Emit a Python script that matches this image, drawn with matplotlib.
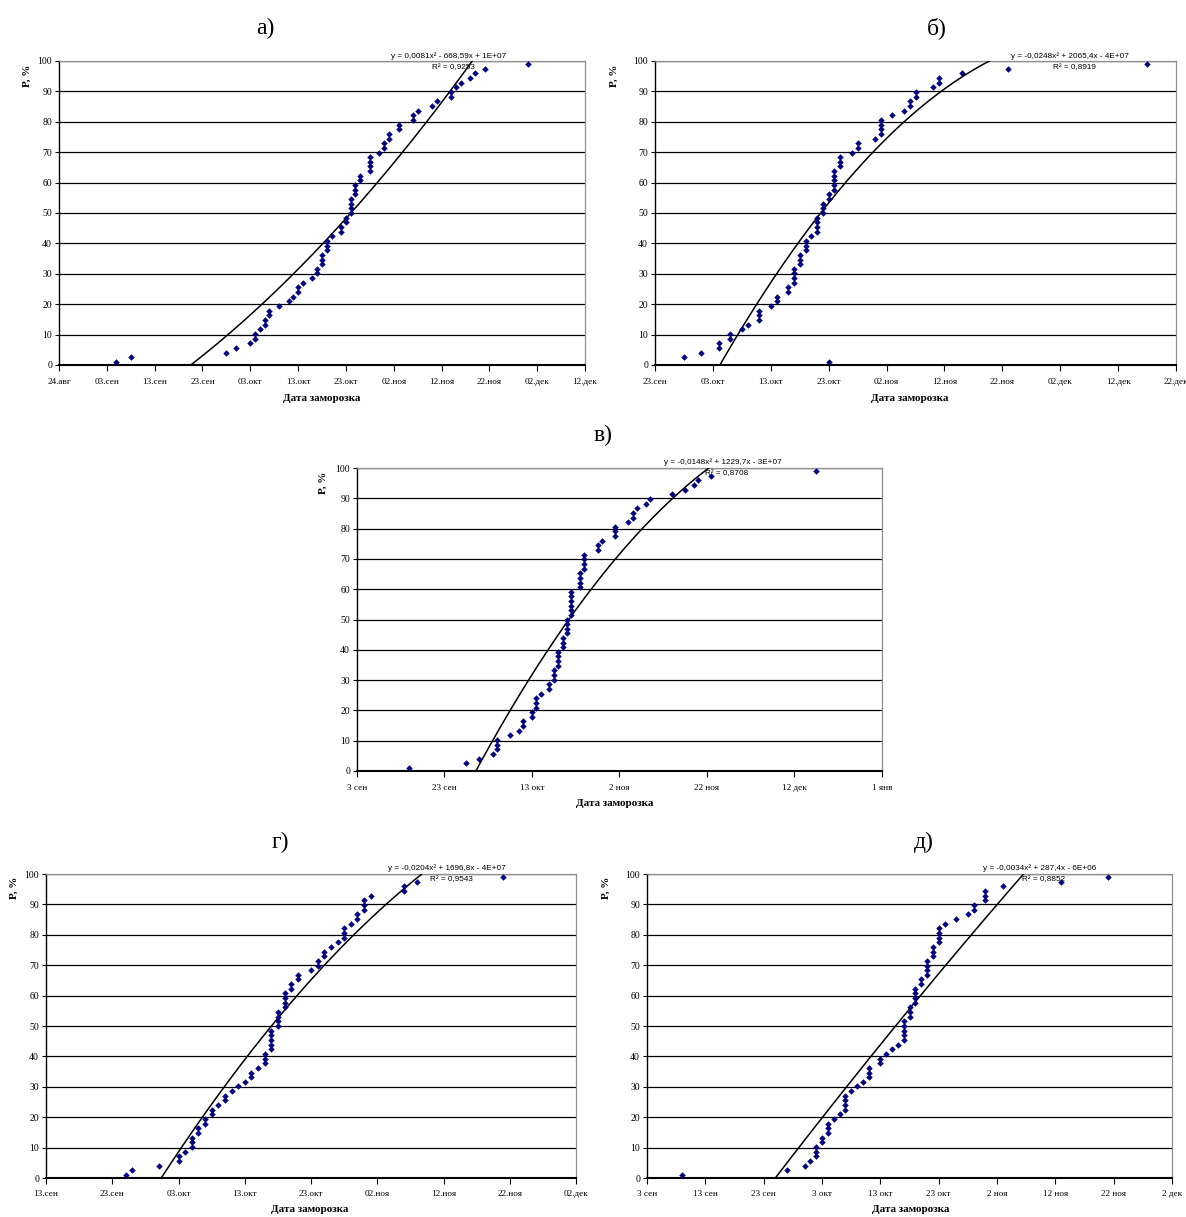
import numpy as np
import pandas as pd
import matplotlib
matplotlib.use('Agg')
import matplotlib.pyplot as plt
import matplotlib.dates as mdates
from matplotlib.ticker import FuncFormatter

# empirical probability of frost (shared by all five stations, n = 65)
P = [1.1, 2.6, 4.1, 5.7, 7.2, 8.7, 10.2, 11.8, 13.3, 14.8,
     16.4, 17.9, 19.4, 20.9, 22.5, 24.0, 25.5, 27.1, 28.6, 30.1,
     31.7, 33.2, 34.7, 36.2, 37.8, 39.3, 40.8, 42.4, 43.9, 45.4,
     47.0, 48.5, 50.0, 51.5, 53.1, 54.6, 56.1, 57.6, 59.2, 60.7,
     62.2, 63.8, 65.3, 66.8, 68.3, 69.9, 71.4, 72.9, 74.5, 76.0,
     77.5, 79.1, 80.6, 82.1, 83.6, 85.2, 86.7, 88.2, 89.8, 91.3,
     92.8, 94.3, 95.9, 97.4, 98.9]

# frost dates (MM-DD), in rank order
dates_a = ['09-05', '09-08', '09-28', '09-30', '10-03', '10-04', '10-04', '10-05', '10-06', '10-06',
           '10-07', '10-07', '10-09', '10-11', '10-12', '10-13', '10-13', '10-14', '10-16', '10-17',
           '10-17', '10-18', '10-18', '10-18', '10-19', '10-19', '10-19', '10-20', '10-22', '10-22',
           '10-23', '10-23', '10-24', '10-24', '10-24', '10-24', '10-25', '10-25', '10-25', '10-26',
           '10-26', '10-28', '10-28', '10-28', '10-28', '10-30', '10-31', '10-31', '11-01', '11-01',
           '11-03', '11-03', '11-06', '11-06', '11-07', '11-10', '11-11', '11-14', '11-14', '11-15',
           '11-16', '11-18', '11-19', '11-21', '11-30']
dates_b = ['10-23', '09-28', '10-01', '10-04', '10-04', '10-06', '10-06', '10-08', '10-09', '10-11',
           '10-11', '10-11', '10-13', '10-14', '10-14', '10-16', '10-16', '10-17', '10-17', '10-17',
           '10-17', '10-18', '10-18', '10-18', '10-19', '10-19', '10-19', '10-20', '10-21', '10-21',
           '10-21', '10-21', '10-22', '10-22', '10-22', '10-23', '10-23', '10-24', '10-24', '10-24',
           '10-24', '10-24', '10-25', '10-25', '10-25', '10-27', '10-28', '10-28', '10-31', '11-01',
           '11-01', '11-01', '11-01', '11-03', '11-05', '11-06', '11-06', '11-07', '11-07', '11-10',
           '11-11', '11-11', '11-15', '11-23', '12-17']
dates_v = ['09-15', '09-28', '10-01', '10-04', '10-05', '10-05', '10-05', '10-08', '10-10', '10-11',
           '10-11', '10-13', '10-13', '10-14', '10-14', '10-14', '10-15', '10-17', '10-17', '10-18',
           '10-18', '10-18', '10-19', '10-19', '10-19', '10-19', '10-20', '10-20', '10-20', '10-21',
           '10-21', '10-21', '10-21', '10-22', '10-22', '10-22', '10-22', '10-22', '10-22', '10-24',
           '10-24', '10-24', '10-24', '10-25', '10-25', '10-25', '10-25', '10-28', '10-28', '10-29',
           '11-01', '11-01', '11-01', '11-04', '11-05', '11-05', '11-06', '11-08', '11-09', '11-14',
           '11-17', '11-19', '11-20', '11-23', '12-17']
dates_g = ['09-25', '09-26', '09-30', '10-03', '10-03', '10-04', '10-05', '10-05', '10-05', '10-06',
           '10-06', '10-07', '10-07', '10-08', '10-08', '10-09', '10-10', '10-10', '10-11', '10-12',
           '10-13', '10-14', '10-14', '10-15', '10-16', '10-16', '10-16', '10-17', '10-17', '10-17',
           '10-17', '10-17', '10-18', '10-18', '10-18', '10-18', '10-19', '10-19', '10-19', '10-19',
           '10-20', '10-20', '10-21', '10-21', '10-23', '10-24', '10-24', '10-25', '10-25', '10-26',
           '10-27', '10-28', '10-28', '10-28', '10-29', '10-30', '10-30', '10-31', '10-31', '10-31',
           '11-01', '11-06', '11-06', '11-08', '11-21']
dates_d = ['09-09', '09-27', '09-30', '10-01', '10-02', '10-02', '10-02', '10-03', '10-03', '10-04',
           '10-04', '10-04', '10-05', '10-06', '10-07', '10-07', '10-07', '10-07', '10-08', '10-09',
           '10-10', '10-11', '10-11', '10-11', '10-13', '10-13', '10-14', '10-15', '10-16', '10-17',
           '10-17', '10-17', '10-17', '10-17', '10-18', '10-18', '10-18', '10-19', '10-19', '10-19',
           '10-19', '10-20', '10-20', '10-21', '10-21', '10-21', '10-21', '10-22', '10-22', '10-22',
           '10-23', '10-23', '10-23', '10-23', '10-24', '10-26', '10-28', '10-29', '10-29', '10-31',
           '10-31', '10-31', '11-03', '11-13', '11-21']

eq_a = ['y = 0,0081x² - 668,59x + 1E+07', 'R² = 0,9253']
eq_b = ['y = -0,0248x² + 2065,4x - 4E+07', 'R² = 0,8919']
eq_v = ['y = -0,0148x² + 1229,7x - 3E+07', 'R² = 0,8708']
eq_g = ['y = -0,0204x² + 1696,8x - 4E+07', 'R² = 0,9543']
eq_d = ['y = -0,0034x² + 287,4x - 6E+06', 'R² = 0,8852']

months = {1: 'янв', 8: 'авг', 9: 'сен', 10: 'окт', 11: 'ноя', 12: 'дек'}

W, H = 1186, 1217
fig = plt.figure(figsize=(W / 100, H / 100), dpi=100)
serif = 'Liberation Serif'
sans = 'Liberation Sans'


def fmt_dot(v, pos):
    d = mdates.num2date(v)
    return f'{d.day:02d}.{months[d.month]}'


def fmt_space(v, pos):
    d = mdates.num2date(v)
    return f'{d.day} {months[d.month]}'


def panel(box, dates, eq, title, xmin, xmax, step, fmt, title_xy, eq_xy, ylab_xy, xlab_xy):
    l, t, r, b = box
    ax = fig.add_axes([l / W, 1 - b / H, (r - l) / W, (b - t) / H])
    x = mdates.date2num(pd.to_datetime(['2001-' + s for s in dates]))
    x0 = mdates.date2num(pd.Timestamp(xmin))
    x1 = mdates.date2num(pd.Timestamp(xmax))
    # polynomial trendline (2nd order), like Excel
    xm = x.mean()
    c = np.polyfit(x - xm, P, 2)
    xs = np.linspace(x.min(), x.max(), 400)
    ax.plot(xs, np.polyval(c, xs - xm), color='black', lw=1.1, zorder=3)
    ax.plot(x, P, linestyle='none', marker='D', ms=3.3, mew=0, color='#000080', zorder=4)
    ax.set_xlim(x0, x1)
    ax.set_ylim(0, 100)
    ax.set_xticks(np.arange(x0, x1 + 0.5, step))
    ax.set_yticks(np.arange(0, 101, 10))
    ax.xaxis.set_major_formatter(FuncFormatter(fmt))
    ax.grid(axis='y', color='black', lw=0.9)
    ax.set_axisbelow(True)
    for s in ['top', 'right']:
        ax.spines[s].set_color('#909090')
        ax.spines[s].set_linewidth(0.9)
    ax.spines['left'].set_linewidth(1.0)
    ax.spines['bottom'].set_linewidth(1.5)
    ax.tick_params(axis='x', direction='out', length=4, width=0.8, pad=5, labelsize=6.6)
    ax.tick_params(axis='y', direction='out', length=3, width=0.8, pad=2, labelsize=7)
    for lab in ax.get_xticklabels() + ax.get_yticklabels():
        lab.set_fontfamily(serif)
    fig.text(title_xy[0] / W, 1 - title_xy[1] / H, title, fontsize=17,
             family=serif, ha='center', va='center')
    fig.text(eq_xy[0] / W, 1 - eq_xy[1] / H, eq[0], fontsize=5.9,
             family=sans, ha='center', va='center')
    fig.text((eq_xy[0] + 4) / W, 1 - (eq_xy[1] + 12) / H, eq[1], fontsize=5.9,
             family=sans, ha='center', va='center')
    fig.text(ylab_xy[0] / W, 1 - ylab_xy[1] / H, 'P, %', fontsize=8, family=serif,
             fontweight='bold', rotation=90, ha='center', va='center')
    fig.text(xlab_xy[0] / W, 1 - xlab_xy[1] / H, 'Дата заморозка', fontsize=8,
             family=serif, fontweight='bold', ha='center', va='center')
    return ax


panel((59, 61, 585, 365), dates_a, eq_a, 'а)', '2001-08-24', '2001-12-12', 10, fmt_dot,
      (265, 28), (449, 56), (27, 76), (322, 398))
panel((655, 61, 1176, 365), dates_b, eq_b, 'б)', '2001-09-23', '2001-12-22', 10, fmt_dot,
      (937, 28), (1070, 56), (614, 76), (910, 398))
panel((357, 468, 882, 771), dates_v, eq_v, 'в)', '2001-09-03', '2002-01-01', 20, fmt_space,
      (603, 435), (723, 462), (323, 483), (615, 804))
panel((46, 874, 576, 1178), dates_g, eq_g, 'г)', '2001-09-13', '2001-12-02', 10, fmt_dot,
      (280, 842), (447, 868), (14, 888), (310, 1209))
panel((647, 874, 1172, 1178), dates_d, eq_d, 'д)', '2001-09-03', '2001-12-02', 10, fmt_space,
      (924, 842), (1040, 868), (606, 888), (911, 1209))

fig.savefig('out.png', dpi=100)
